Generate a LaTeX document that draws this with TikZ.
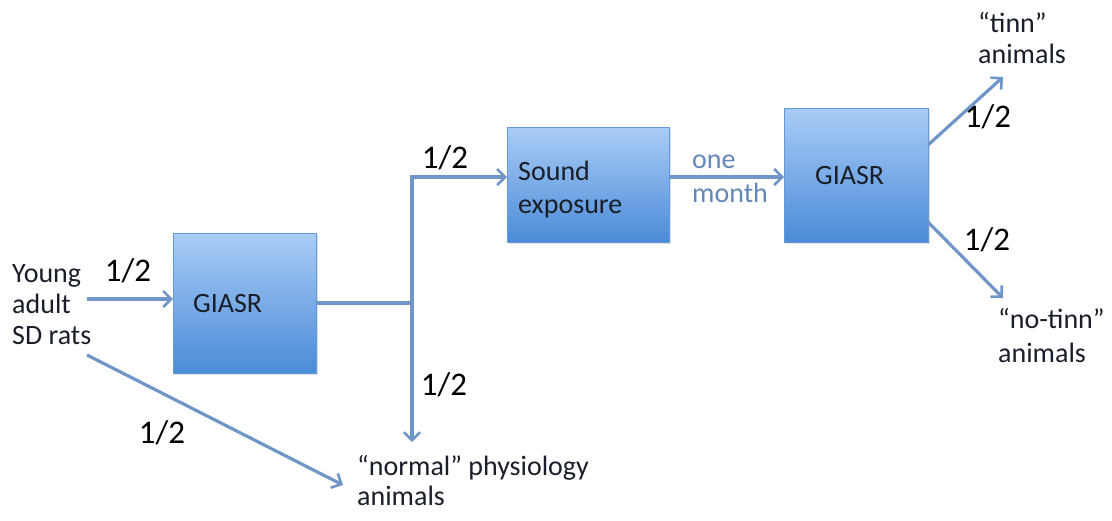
\documentclass[tikz,border=0pt]{standalone}
\usepackage{fontspec}
\setmainfont{Carlito}
\usetikzlibrary{arrows.meta,shadows}
\definecolor{lnc}{RGB}{112,150,200}
\definecolor{boxtop}{RGB}{170,204,246}
\definecolor{boxbot}{RGB}{74,139,216}
\definecolor{boxedge}{RGB}{100,152,215}
\definecolor{txt}{RGB}{25,30,40}
\definecolor{note}{RGB}{100,135,185}
\begin{document}
\begin{tikzpicture}[x=1pt,y=-1pt,
  box/.style={top color=boxtop, bottom color=boxbot, draw=boxedge, line width=0.6pt,
    drop shadow={opacity=0.25, shadow xshift=2pt, shadow yshift=-2pt}, inner sep=0pt, anchor=north west},
  conn/.style={draw=lnc, line width=3.2pt},
  arr/.style={conn, -{Straight Barb[length=8pt,width=16pt,line width=2.6pt]}},
  lab/.style={font=\fontsize{28}{32}\selectfont, text=txt, inner sep=0pt, align=left, anchor=base west},
  note/.style={lab, text=note, font=\fontsize{28}{34}\selectfont},
  half/.style={font=\fontsize{33}{36}\selectfont, text=black, inner sep=0pt},
  ]
\useasboundingbox (0,0) rectangle (1112,520);

% boxes
\node[box, minimum width=143pt, minimum height=140pt] (g1) at (173,233) {};
\node[box, minimum width=162pt, minimum height=115pt] (snd) at (507,127) {};
\node[box, minimum width=144pt, minimum height=134pt] (g2) at (784,108) {};
\node[lab] (g1t) at (193,312) {GIASR};
\node[lab, font=\fontsize{28}{33}\selectfont] (sndt) at (518,213) {Sound\\exposure};
\node[lab] (g2t) at (815,184) {GIASR};

% text labels (anchored at the baseline of the last line)
\node[lab, font=\fontsize{28}{31}\selectfont] (young) at (12,344) {Young\\adult\\SD rats};
\node[lab, font=\fontsize{28}{30}\selectfont] (normal) at (357,505) {“normal” physiology\\animals};
\node[lab, font=\fontsize{28}{31}\selectfont] (tinn) at (978,63) {“tinn”\\animals};
\node[lab, font=\fontsize{28}{34}\selectfont] (notinn) at (998,362) {“no-tinn”\\animals};
\node[note] (month) at (692,202) {one\\month};

% coordinates
\coordinate (ya) at (87,299);
\coordinate (yb) at (87,355);
\coordinate (nb) at (343,485);
\coordinate (j) at (412,303);
\coordinate (jt) at (412,177);
\coordinate (jb) at (412,442);
\coordinate (m) at (0,177);
\coordinate (t0) at (928,145);
\coordinate (t1) at (1003,77);
\coordinate (n0) at (928,222);
\coordinate (n1) at (1003,298);

% connectors
\draw[arr] (ya) -- (ya -| g1.west);
\draw[conn] (g1.east |- j) -- (j);
\draw[arr] (j) -- (jb);
\draw[arr, line join=miter] (j) -- (jt) -- (jt -| snd.west);
\draw[arr] (yb) -- (nb);
\draw[arr] (snd.east |- m) -- (g2.west |- m);
\draw[arr] (t0) -- (t1);
\draw[arr] (n0) -- (n1);

% fractions
\node[half] (h1) at (128,271) {1/2};
\node[half] (h2) at (162,433) {1/2};
\node[half] (h3) at (445,158) {1/2};
\node[half] (h4) at (444,385) {1/2};
\node[half] (h5) at (988,117) {1/2};
\node[half] (h6) at (987,240) {1/2};
\end{tikzpicture}
\end{document}
